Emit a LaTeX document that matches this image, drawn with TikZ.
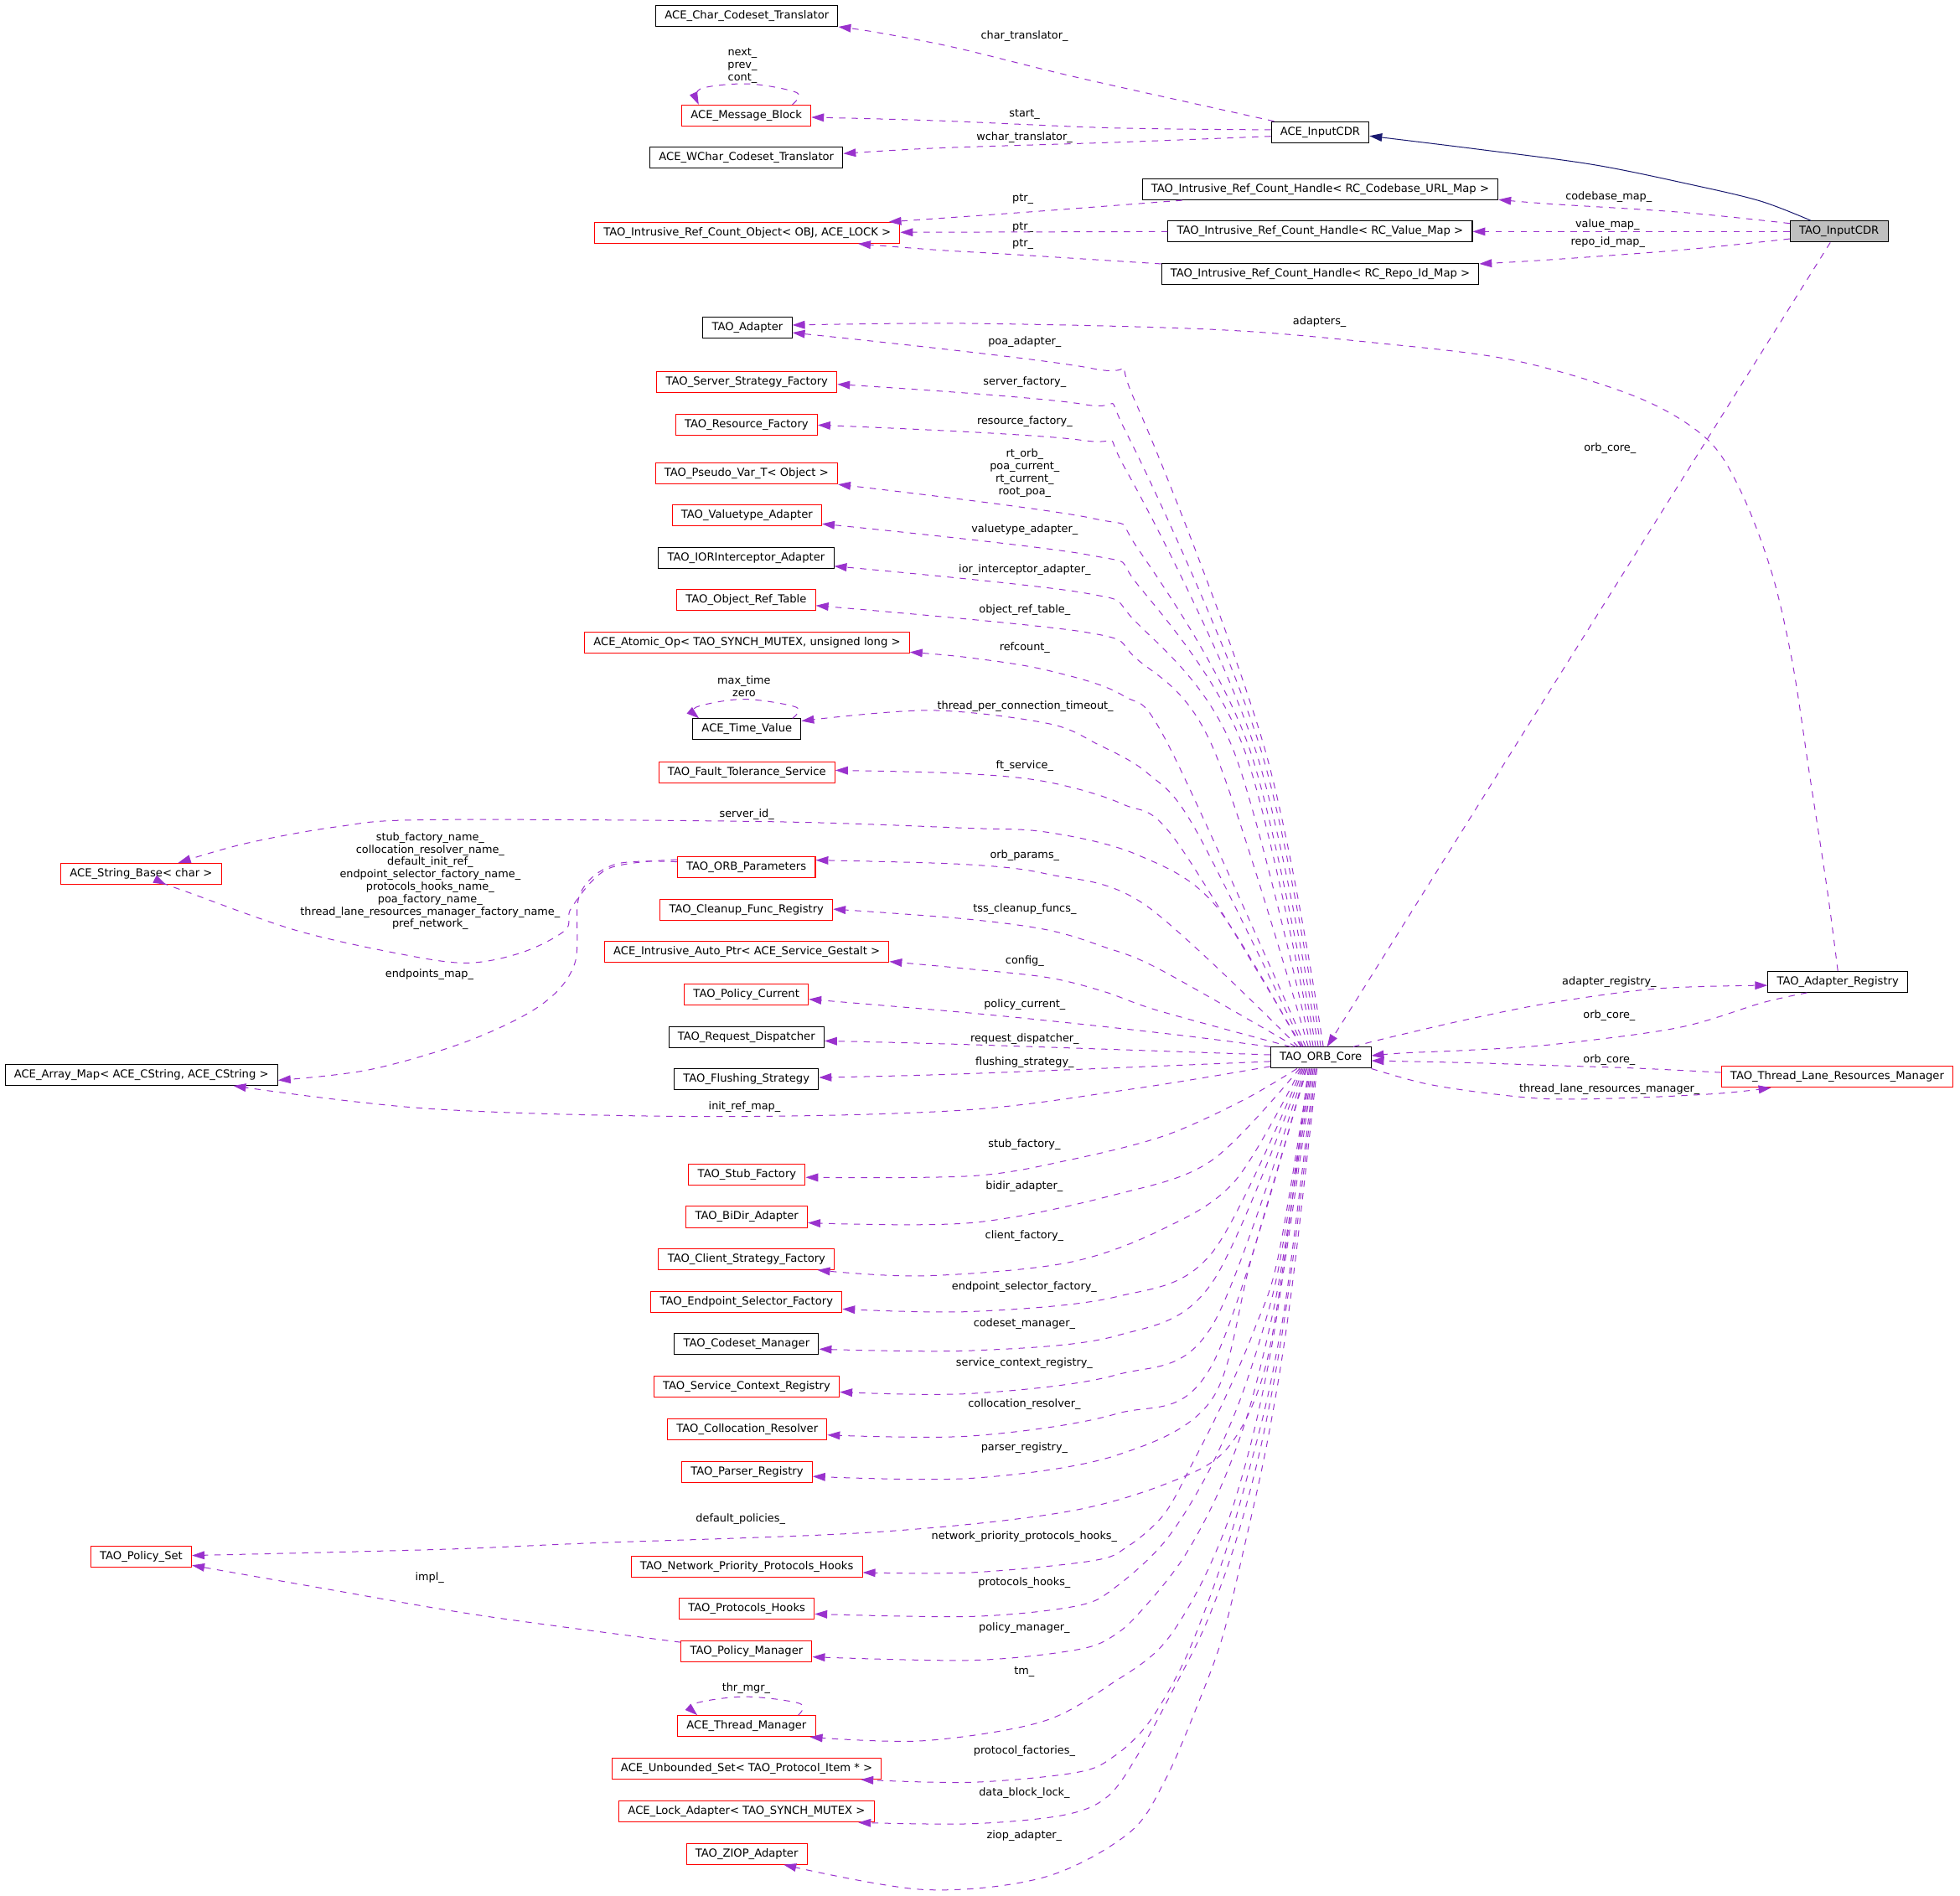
\documentclass[tikz,border=0pt]{standalone}
\usepackage{fontspec}
\setmainfont{DejaVu Sans}
\usetikzlibrary{arrows.meta}
\definecolor{edgec}{HTML}{9A32CD}
\definecolor{inhc}{HTML}{191970}
\definecolor{tingray}{HTML}{BFBFBF}
\tikzset{
 cls/.style={draw=black, line width=0.67pt, inner xsep=7.2pt, inner ysep=0pt, minimum height=16.8pt, text height=6.6pt, text depth=1.9pt, font=\fontsize{8.8}{10}\selectfont},
 rcls/.style={cls, draw=red},
 lbl/.style={inner sep=0pt, font=\fontsize{8.6}{9.9}\selectfont, align=center},
 memb/.style={draw=edgec, line width=0.67pt, dash pattern=on 5pt off 5pt, -{Triangle[length=10pt,width=6.5pt]}},
 inh/.style={draw=inhc, line width=0.67pt, -{Triangle[length=10pt,width=6.5pt]}},
}
\newcommand\edg[1]{\draw[memb] plot[smooth,tension=0.55] coordinates {#1};}
\begin{document}
\begin{tikzpicture}[x=1pt,y=-1pt]
\path[fill=white] (0,0) rectangle (1565.6,1514.7);
\useasboundingbox (0,0) rectangle (1565.6,1514.7);
% ---------- nodes ----------
\node[cls] (ict) at (596.6,12.7) {ACE\_Char\_Codeset\_Translator};
\node[rcls] (mb) at (596.2,92.3) {ACE\_Message\_Block};
\node[cls] (wct) at (596.2,126) {ACE\_WChar\_Codeset\_Translator};
\node[cls] (icdr) at (1054.5,105.6) {ACE\_InputCDR};
\node[cls] (hcb) at (1054.5,151.3) {TAO\_Intrusive\_Ref\_Count\_Handle< RC\_Codebase\_URL\_Map >};
\node[rcls] (rco) at (596.9,186) {TAO\_Intrusive\_Ref\_Count\_Object< OBJ, ACE\_LOCK >};
\node[cls] (hvm) at (1054.5,185) {TAO\_Intrusive\_Ref\_Count\_Handle< RC\_Value\_Map >};
\node[cls] (hri) at (1054.5,218.8) {TAO\_Intrusive\_Ref\_Count\_Handle< RC\_Repo\_Id\_Map >};
\node[cls, fill=tingray] (tin) at (1469,185) {TAO\_InputCDR};
\node[cls] (tad) at (597,261.6) {TAO\_Adapter};
\node[rcls] (ssf) at (596.6,305.5) {TAO\_Server\_Strategy\_Factory};
\node[rcls] (trf) at (596.3,339.3) {TAO\_Resource\_Factory};
\node[rcls] (pvt) at (596.3,377.9) {TAO\_Pseudo\_Var\_T< Object >};
\node[rcls] (vta) at (596.6,411.5) {TAO\_Valuetype\_Adapter};
\node[cls] (ioa) at (596,445.8) {TAO\_IORInterceptor\_Adapter};
\node[rcls] (ort) at (596,479.4) {TAO\_Object\_Ref\_Table};
\node[rcls] (aop) at (596.7,513.3) {ACE\_Atomic\_Op< TAO\_SYNCH\_MUTEX, unsigned long >};
\node[cls] (tv) at (596.6,582.6) {ACE\_Time\_Value};
\node[rcls] (fts) at (596.6,617.1) {TAO\_Fault\_Tolerance\_Service};
\node[rcls] (op) at (596.2,692.7) {TAO\_ORB\_Parameters};
\node[rcls] (sb) at (112.7,698) {ACE\_String\_Base< char >};
\node[rcls] (cfr) at (596.2,726.9) {TAO\_Cleanup\_Func\_Registry};
\node[rcls] (iap) at (596.5,760.6) {ACE\_Intrusive\_Auto\_Ptr< ACE\_Service\_Gestalt >};
\node[rcls] (pc) at (596.2,794.4) {TAO\_Policy\_Current};
\node[cls] (rd) at (596.2,828.6) {TAO\_Request\_Dispatcher};
\node[cls] (am) at (112.9,858.7) {ACE\_Array\_Map< ACE\_CString, ACE\_CString >};
\node[cls] (fs) at (596.2,862.4) {TAO\_Flushing\_Strategy};
\node[rcls] (stf) at (596.7,938.5) {TAO\_Stub\_Factory};
\node[rcls] (bda) at (596.5,972.2) {TAO\_BiDir\_Adapter};
\node[rcls] (csf) at (596.3,1005.9) {TAO\_Client\_Strategy\_Factory};
\node[rcls] (esf) at (596.3,1040) {TAO\_Endpoint\_Selector\_Factory};
\node[cls] (csm) at (596.3,1073.9) {TAO\_Codeset\_Manager};
\node[rcls] (scr) at (596.4,1107.6) {TAO\_Service\_Context\_Registry};
\node[rcls] (clr) at (596.9,1141.9) {TAO\_Collocation\_Resolver};
\node[rcls] (pr) at (596.7,1175.8) {TAO\_Parser\_Registry};
\node[rcls] (ps) at (112.8,1243.5) {TAO\_Policy\_Set};
\node[rcls] (npph) at (596.5,1251.4) {TAO\_Network\_Priority\_Protocols\_Hooks};
\node[rcls] (ph) at (596.5,1285.3) {TAO\_Protocols\_Hooks};
\node[rcls] (pm) at (596.3,1319.2) {TAO\_Policy\_Manager};
\node[rcls] (thm) at (596.3,1379) {ACE\_Thread\_Manager};
\node[rcls] (us) at (596.4,1413) {ACE\_Unbounded\_Set< TAO\_Protocol\_Item * >};
\node[rcls] (la) at (596.3,1447.3) {ACE\_Lock\_Adapter< TAO\_SYNCH\_MUTEX >};
\node[rcls] (zi) at (596.5,1481) {TAO\_ZIOP\_Adapter};
\node[cls] (orb) at (1055,845) {TAO\_ORB\_Core};
\node[cls] (ar) at (1468,784.4) {TAO\_Adapter\_Registry};
\node[rcls] (tl) at (1467.5,860.3) {TAO\_Thread\_Lane\_Resources\_Manager};
% ---------- labels ----------
\node[lbl] (l01) at (818.3,28.6) {char\_translator\_};
\node[lbl] (l02) at (593,52.6) {next\_\\prev\_\\cont\_};
\node[lbl] (l03) at (818.3,91.5) {start\_};
\node[lbl] (l04) at (818.3,109.8) {wchar\_translator\_};
\node[lbl] (l05) at (1285,157.3) {codebase\_map\_};
\node[lbl] (l06) at (1284,179.8) {value\_map\_};
\node[lbl] (l07) at (1284.3,193.7) {repo\_id\_map\_};
\node[lbl] (l08) at (817,159) {ptr\_};
\node[lbl] (l09) at (817,181.8) {ptr\_};
\node[lbl] (l10) at (817,195.2) {ptr\_};
\node[lbl] (l11) at (1054,257) {adapters\_};
\node[lbl] (l12) at (818.5,273.4) {poa\_adapter\_};
\node[lbl] (l13) at (818.5,305.3) {server\_factory\_};
\node[lbl] (l14) at (818.5,336.5) {resource\_factory\_};
\node[lbl] (l15) at (818.5,378) {rt\_orb\_\\poa\_current\_\\rt\_current\_\\root\_poa\_};
\node[lbl] (l16) at (818.5,422.8) {valuetype\_adapter\_};
\node[lbl] (l17) at (818.5,455.2) {ior\_interceptor\_adapter\_};
\node[lbl] (l18) at (818.5,487.1) {object\_ref\_table\_};
\node[lbl] (l19) at (818.5,517.2) {refcount\_};
\node[lbl] (l20) at (594.3,548.4) {max\_time\\zero};
\node[lbl] (l21) at (819,564.1) {thread\_per\_connection\_timeout\_};
\node[lbl] (l22) at (818.5,612) {ft\_service\_};
\node[lbl] (l23) at (596.5,650.6) {server\_id\_};
\node[lbl] (l24) at (818.5,683.2) {orb\_params\_};
\node[lbl] (l25) at (343.6,704) {stub\_factory\_name\_\\collocation\_resolver\_name\_\\default\_init\_ref\_\\endpoint\_selector\_factory\_name\_\\protocols\_hooks\_name\_\\poa\_factory\_name\_\\thread\_lane\_resources\_manager\_factory\_name\_\\pref\_network\_};
\node[lbl] (l26) at (818.5,726) {tss\_cleanup\_funcs\_};
\node[lbl] (l27) at (818.5,767.5) {config\_};
\node[lbl] (l28) at (343,778.7) {endpoints\_map\_};
\node[lbl] (l29) at (818.5,802.5) {policy\_current\_};
\node[lbl] (l30) at (818.5,830) {request\_dispatcher\_};
\node[lbl] (l31) at (818.5,848.5) {flushing\_strategy\_};
\node[lbl] (l32) at (594.7,884) {init\_ref\_map\_};
\node[lbl] (l33) at (1286,358) {orb\_core\_};
\node[lbl] (l34) at (1285.4,784.3) {adapter\_registry\_};
\node[lbl] (l35) at (1285.4,811.3) {orb\_core\_};
\node[lbl] (l36) at (1285.4,846.7) {orb\_core\_};
\node[lbl] (l37) at (1285.6,870.2) {thread\_lane\_resources\_manager\_};
\node[lbl] (l38) at (818.2,914.5) {stub\_factory\_};
\node[lbl] (l39) at (818.2,948) {bidir\_adapter\_};
\node[lbl] (l40) at (818.2,987.4) {client\_factory\_};
\node[lbl] (l41) at (818.2,1028.3) {endpoint\_selector\_factory\_};
\node[lbl] (l42) at (818.2,1057.5) {codeset\_manager\_};
\node[lbl] (l43) at (818.2,1089.1) {service\_context\_registry\_};
\node[lbl] (l44) at (818.2,1122.2) {collocation\_resolver\_};
\node[lbl] (l45) at (818.2,1156.5) {parser\_registry\_};
\node[lbl] (l46) at (591.5,1213.4) {default\_policies\_};
\node[lbl] (l47) at (818.2,1227.8) {network\_priority\_protocols\_hooks\_};
\node[lbl] (l48) at (818.2,1264.5) {protocols\_hooks\_};
\node[lbl] (l49) at (343.2,1260.6) {impl\_};
\node[lbl] (l50) at (818.2,1300.3) {policy\_manager\_};
\node[lbl] (l51) at (818.2,1335.4) {tm\_};
\node[lbl] (l52) at (596,1349) {thr\_mgr\_};
\node[lbl] (l53) at (818.2,1399.3) {protocol\_factories\_};
\node[lbl] (l54) at (818.2,1432.8) {data\_block\_lock\_};
\node[lbl] (l55) at (818.2,1466.7) {ziop\_adapter\_};
% ---------- top edges ----------
\edg{(icdr.north -| 1017.7,0) (958.2,83.7) (853.3,60.2) (762.4,37.9) (699.4,25.7) (ict.south east)}
\edg{(icdr.west |- 0,103.7) (888.3,102.2) (748.4,96.4) (mb.east |- 0,93.7)}
\edg{(icdr.west |- 0,108.9) (888.3,113.8) (748.4,118.3) (wct.east |- 0,122.7)}
\draw[inh] plot[smooth,tension=0.55] coordinates {(tin.north -| 1446.6,0) (1406,160.6) (1350,147.3) (1273,131.6) (1182,119.4) (icdr.east |- 0,108.6)};
\edg{(tin.west |- 0,178.5) (1343,169.6) (1238,162.9) (hcb.east |- 0,159.5)}
\edg{(tin.west |- 0,185) (hvm.east |- 0,185)}
\edg{(tin.west |- 0,190.8) (1343,199.7) (1238,207.5) (hri.east |- 0,210.8)}
\edg{(hcb.south -| 944.3,0) (818.3,169.6) (rco.north -| 709.9,0)}
\edg{(hvm.west |- 0,185) (rco.east |- 0,185.6)}
\edg{(hri.west |- 0,210.8) (804.3,203) (748.4,199.7) (rco.south -| 685.4,0)}
\edg{(mb.north -| 632.9,0) (636.4,74) (597.9,67) (559.5,71) (mb.north -| 558.1,0)}
\edg{(tv.north -| 633,0) (636,565) (594,558.6) (556,565) (tv.north -| 558.4,0)}
\edg{(thm.north -| 637.6,0) (639,1361) (595.3,1355.5) (555,1361) (thm.north -| 557,0)}
% ---------- right side ----------
\edg{(tin.south -| 1462,0) (orb.north -| 1060,0)}
\edg{(ar.north -| 1468,0) (1459.5,710.7) (1445.6,620) (1431.7,529.3) (1415,456.8) (1390,391.4) (1362.3,349.7) (1306.9,317) (1209.7,288) (1099.8,274) (970.6,263.3) (774,258.4) (tad.east |- 0,259.7)}
\edg{(orb.north -| 1081,0) (1104.9,830) (1172.2,814.4) (1239.6,801) (1323.8,789.8) (ar.west |- 0,787.2)}
\edg{(ar.south -| 1443.4,0) (1408,801) (1340.6,821) (1239.6,834.5) (1172.2,839) (1121.7,841.2) (orb.east |- 0,843.4)}
\edg{(tl.west |- 0,856.8) (1307,853.4) (1239.6,851.2) (1172.2,849) (orb.east |- 0,847.4)}
\edg{(orb.south east) (1138.5,865.7) (1189,873.5) (1239.6,878) (1307,876.9) (1374,873.5) (tl.south -| 1414.7,0)}
% ---------- upper fan ----------
\edg{(orb.north -| 1057,0) (1009.6,596) (906.8,320.9) (873.2,294.5) (tad.east |- 0,265.8)}
\edg{(orb.north -| 1055,0) (1006.2,596) (900.8,348) (866,323.1) (ssf.east |- 0,307)}
\edg{(orb.north -| 1053,0) (1001.8,596) (899.5,375.7) (864,351.7) (trf.east |- 0,339.6)}
\edg{(orb.north -| 1051,0) (997.3,596) (909.2,438.8) (872.2,414) (pvt.east |- 0,387)}
\edg{(orb.north -| 1049,0) (992.8,596) (908.7,467) (870.1,443.4) (vta.east |- 0,418.5)}
\edg{(orb.north -| 1047,0) (983.9,596) (906.3,495.8) (866.1,473.7) (ioa.east |- 0,452.3)}
\edg{(orb.north -| 1045,0) (968.3,596) (907.4,525.9) (866.1,504.9) (ort.east |- 0,483.8)}
\edg{(orb.north -| 1043,0) (933.7,596) (896.9,555.6) (836.6,535.5) (774.2,525.4) (aop.east |- 0,521)}
\edg{(orb.north -| 1041,0) (954.9,662.6) (917,618) (876.8,594.6) (836.6,577.9) (742.8,567.5) (tv.east |- 0,576)}
\edg{(orb.north -| 1040,0) (939.3,671.6) (896.9,642.5) (836.6,624.7) (769.7,618) (fts.east |- 0,615.4)}
\edg{(orb.north -| 1039,0) (970.5,722.9) (908,682.7) (836.6,664.9) (769.7,661.5) (613.6,656.4) (343.6,654.9) (270,660.4) (196.4,673.8) (sb.north -| 142.4,0)}
\edg{(orb.north -| 1037,0) (914.7,722.9) (836.6,698.3) (769.7,690.5) (op.east |- 0,687.2)}
\edg{(orb.north -| 1035,0) (925.9,774.2) (881.3,756.3) (836.6,742.9) (769.7,734) (cfr.east |- 0,726.3)}
\edg{(orb.north -| 1031,0) (925.9,807.6) (881.3,792) (836.6,780.9) (769.7,773.7) (iap.east |- 0,768.2)}
\edg{(orb.north west) (948.2,827.7) (858.9,817.7) (769.7,808.8) (pc.east |- 0,798.3)}
\edg{(orb.west |- 0,842.7) (769.7,834.4) (rd.east |- 0,831.6)}
\edg{(orb.west |- 0,848) (769.7,857.9) (fs.east |- 0,860.8)}
\edg{(orb.west |- 0,852) (903.6,870.1) (768,887) (564.6,892) (343.6,885.8) (am.south -| 186.5,0)}
% ---------- ORB_Parameters / Policy_Manager ----------
\edg{(op.west |- 0,688.5) (491,690.6) (463,715) (459,770) (432,803) (373,832) (295,854.6) (am.east |- 0,863)}
\edg{(op.west |- 0,686.8) (486,693.9) (456.5,725.1) (451.6,743) (417.3,760.8) (373.1,769.3) (319.1,762) (235.6,743) (147.3,711.8) (sb.south -| 132.5,0)}
\edg{(pm.west |- 0,1312) (384.7,1290.7) (254.9,1268.4) (ps.east |- 0,1250.5)}
% ---------- lower fan ----------
\edg{(orb.south -| 1036,0) (992.8,879) (929.6,907.5) (852.7,927) (775.9,939.5) (stf.east |- 0,940.6)}
\edg{(orb.south -| 1038,0) (968,927) (891.2,954.3) (775.9,976.9) (bda.east |- 0,976.9)}
\edg{(orb.south -| 1039,0) (987.2,942.6) (929.6,981.5) (852.7,1008.8) (737.5,1019.3) (csf.south -| 653,0)}
\edg{(orb.south -| 1040,0) (968,1001) (891.2,1036.1) (775.9,1047.8) (esf.east |- 0,1045.8)}
\edg{(orb.south -| 1041,0) (968,1025) (891.2,1067.3) (775.9,1079) (csm.east |- 0,1077.8)}
\edg{(orb.south -| 1042,0) (968,1059.5) (891.2,1098.5) (775.9,1113.3) (scr.east |- 0,1112.1)}
\edg{(orb.south -| 1043,0) (968,1090.7) (891.2,1129.6) (775.9,1147.2) (clr.east |- 0,1146.4)}
\edg{(orb.south -| 1044,0) (1000,1004) (968,1117.9) (891.2,1162.8) (775.9,1181) (pr.east |- 0,1179.5)}
\edg{(orb.south -| 1045,0) (1028,990) (1010,1095) (982,1155) (940,1182) (852.7,1207.6) (699,1224) (468.5,1232.9) (352.3,1237.8) (ps.east |- 0,1242.7)}
\edg{(orb.south -| 1046,0) (1021,1004) (1002,1062) (978,1118) (952,1170) (929.6,1210) (900,1236) (872,1247) (775.9,1256.3) (npph.east |- 0,1256.3)}
\edg{(orb.south -| 1047,0) (1023,1004) (1008,1065) (988,1125) (962,1182) (930,1232) (891,1268) (860,1283) (775.9,1291.4) (ph.east |- 0,1289.4)}
\edg{(orb.south -| 1048,0) (1025,1004) (1012,1070) (995,1135) (972,1195) (945,1245) (915,1283) (891,1305.8) (860,1318) (775.9,1326.4) (pm.east |- 0,1323.7)}
\edg{(orb.south -| 1049,0) (1027,1004) (1015,1080) (1000,1150) (981,1215) (957,1270) (928,1315) (891,1343) (833.5,1375.1) (737.5,1390.7) (thm.south -| 647,0)}
\edg{(orb.south -| 1050,0) (1029.6,1020) (1020.7,1075) (1010.7,1124) (997.3,1176) (981.7,1231) (963.8,1283) (943.7,1331.7) (917,1377) (890,1403) (860,1416) (775.9,1423.9) (us.south -| 687.6,0)}
\edg{(orb.south -| 1051,0) (1033,1004) (1020,1090) (1005,1165) (986,1235) (963,1298) (936,1352) (910,1400) (885,1435) (850,1450) (775.9,1457) (la.south -| 685.6,0)}
\edg{(orb.south -| 1052,0) (1035,1004) (1024,1085) (1010.7,1160) (995,1231) (977,1306) (957,1361) (930.4,1422.6) (901.4,1464.7) (833.5,1499.9) (737.5,1509.6) (zi.south -| 626,0)}
\end{tikzpicture}
\end{document}
